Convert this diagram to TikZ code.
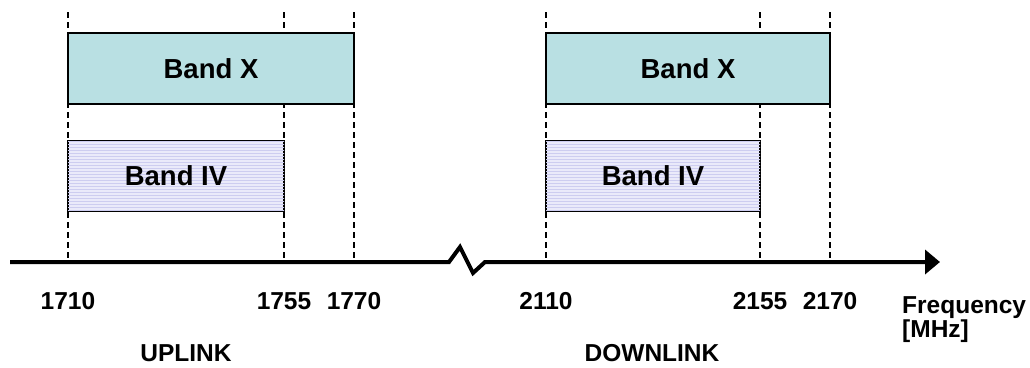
\documentclass[tikz,border=0pt]{standalone}
\usepackage{fontspec}
\setmainfont{Liberation Sans}
\usetikzlibrary{arrows.meta,patterns}
\definecolor{bandx}{RGB}{185,224,227}
\definecolor{bandiv}{RGB}{234,234,250}
\definecolor{bandivline}{RGB}{205,205,240}
\tikzset{
  bandbox/.style={draw=black,line width=1.3pt,minimum height=71pt,inner sep=0pt,
     font=\fontsize{27.5}{32}\selectfont\bfseries},
  xbox/.style={bandbox,fill=bandx},
  ivbox/.style={bandbox,fill=bandiv,postaction={pattern=horizontal lines,pattern color=bandivline}},
  guide/.style={draw=black,line width=1.6pt,dash pattern=on 6pt off 4pt},
  freqlbl/.style={font=\fontsize{24.5}{27}\selectfont\bfseries,anchor=base,inner sep=0pt},
  axisline/.style={line width=4pt,-{Triangle[length=15pt,width=24pt]}}
}
\begin{document}
\begin{tikzpicture}[x=1pt,y=-1pt]
\useasboundingbox (0,0) rectangle (1030,367);
% guide coordinates
\foreach \n/\x in {a/68,b/284,c/354,d/546,e/760,f/830}{
  \coordinate (\n top) at (\x,12);
  \coordinate (\n bot) at (\x,262);
}
% dashed guides
\foreach \n in {a,b,c,d,e,f}{
  \draw[guide] (\n top) -- (\n bot);
}
% boxes
\node[xbox,minimum width=286pt] (ulx) at (211,68.5) {Band X};
\node[ivbox,minimum width=216pt] (uliv) at (176,176) {Band IV};
\node[xbox,minimum width=284pt] (dlx) at (688,68.5) {Band X};
\node[ivbox,minimum width=214pt] (dliv) at (653,176) {Band IV};
% axis
\coordinate (axstart) at (10,262);
\coordinate (z1) at (449,262);
\coordinate (z2) at (460,247);
\coordinate (z3) at (473,273);
\coordinate (z4) at (485,262);
\coordinate (axend) at (940,262);
\draw[axisline] (axstart) -- (z1) -- (z2) -- (z3) -- (z4) -- (axend);
% frequency labels
\node[freqlbl] (f1710) at (68,309) {1710};
\node[freqlbl] (f1755) at (284,309) {1755};
\node[freqlbl] (f1770) at (354,309) {1770};
\node[freqlbl] (f2110) at (546,309) {2110};
\node[freqlbl] (f2155) at (760,309) {2155};
\node[freqlbl] (f2170) at (830,309) {2170};
\node[freqlbl,anchor=base west] (freq) at (902,313) {Frequency};
\node[freqlbl,anchor=base west] (mhz) at (902,337) {[MHz]};
\node[freqlbl] (ul) at (186,361.5) {UPLINK};
\node[freqlbl] (dl) at (652,361.5) {DOWNLINK};
\end{tikzpicture}
\end{document}
